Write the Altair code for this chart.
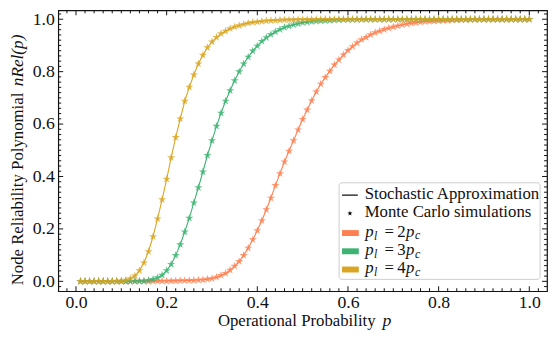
import altair as alt
import pandas as pd

# ---------------- data ----------------
P = [0.01, 0.02, 0.03, 0.04, 0.05, 0.06, 0.07, 0.08, 0.09, 0.10,
     0.11, 0.12, 0.13, 0.14, 0.15, 0.16, 0.17, 0.18, 0.19, 0.20,
     0.21, 0.22, 0.23, 0.24, 0.25, 0.26, 0.27, 0.28, 0.29, 0.30,
     0.31, 0.32, 0.33, 0.34, 0.35, 0.36, 0.37, 0.38, 0.39, 0.40,
     0.41, 0.42, 0.43, 0.44, 0.45, 0.46, 0.47, 0.48, 0.49, 0.50,
     0.51, 0.52, 0.53, 0.54, 0.55, 0.56, 0.57, 0.58, 0.59, 0.60,
     0.61, 0.62, 0.63, 0.64, 0.65, 0.66, 0.67, 0.68, 0.69, 0.70,
     0.71, 0.72, 0.73, 0.74, 0.75, 0.76, 0.77, 0.78, 0.79, 0.80,
     0.81, 0.82, 0.83, 0.84, 0.85, 0.86, 0.87, 0.88, 0.89, 0.90,
     0.91, 0.92, 0.93, 0.94, 0.95, 0.96, 0.97, 0.98, 0.99, 1.00]

REL_2PC = [0.0, 0.0, 0.0, 0.0, 0.0, 0.0, 0.0, 0.0, 0.0, 0.0,
           0.0, 0.0, 0.0, 0.0, 0.0, 0.0003, 0.0005, 0.0007, 0.001, 0.0013,
           0.0017, 0.002, 0.0025, 0.003, 0.0035, 0.004, 0.005, 0.006, 0.0085, 0.011,
           0.016, 0.0226, 0.031, 0.043, 0.058, 0.076, 0.099, 0.127, 0.159, 0.194,
           0.232, 0.274, 0.318, 0.366, 0.411, 0.456, 0.497, 0.537, 0.578, 0.618,
           0.654, 0.690, 0.723, 0.753, 0.778, 0.802, 0.826, 0.845, 0.864, 0.881,
           0.896, 0.910, 0.922, 0.931, 0.941, 0.949, 0.955, 0.961, 0.966, 0.971,
           0.975, 0.979, 0.982, 0.985, 0.987, 0.989, 0.991, 0.992, 0.993, 0.994,
           0.995, 0.996, 0.997, 0.9975, 0.998, 0.9985, 0.9988, 0.999, 0.9992, 0.9994,
           0.9995, 0.9996, 0.9997, 0.9998, 0.9998, 0.9999, 0.9999, 1.0, 1.0, 1.0]

REL_3PC = [0.0, 0.0, 0.0, 0.0, 0.0, 0.0, 0.0, 0.0, 0.0, 0.0,
           0.0003, 0.0005, 0.001, 0.0015, 0.002, 0.004, 0.0075, 0.014, 0.024, 0.041,
           0.065, 0.099, 0.140, 0.189, 0.241, 0.300, 0.358, 0.418, 0.481, 0.537,
           0.592, 0.642, 0.688, 0.728, 0.766, 0.800, 0.830, 0.856, 0.879, 0.898,
           0.916, 0.930, 0.942, 0.952, 0.961, 0.969, 0.974, 0.979, 0.983, 0.987,
           0.989, 0.991, 0.993, 0.994, 0.995, 0.996, 0.997, 0.9975, 0.998, 0.9985,
           0.9988, 0.999, 0.9992, 0.9994, 0.9995, 0.9996, 0.9997, 0.9998, 0.9998, 0.9999,
           1.0, 1.0, 1.0, 1.0, 1.0, 1.0, 1.0, 1.0, 1.0, 1.0,
           1.0, 1.0, 1.0, 1.0, 1.0, 1.0, 1.0, 1.0, 1.0, 1.0,
           1.0, 1.0, 1.0, 1.0, 1.0, 1.0, 1.0, 1.0, 1.0, 1.0]

REL_4PC = [0.0, 0.0, 0.0, 0.0, 0.0, 0.0, 0.0, 0.0005, 0.001, 0.002,
           0.005, 0.011, 0.021, 0.041, 0.071, 0.114, 0.171, 0.239, 0.312, 0.390,
           0.472, 0.549, 0.620, 0.688, 0.741, 0.788, 0.830, 0.863, 0.892, 0.914,
           0.931, 0.945, 0.955, 0.964, 0.971, 0.976, 0.981, 0.985, 0.988, 0.990,
           0.992, 0.994, 0.995, 0.996, 0.997, 0.9975, 0.998, 0.9985, 0.999, 0.999,
           0.9993, 0.9995, 0.9996, 0.9997, 0.9998, 0.9999, 0.9999, 1.0, 1.0, 1.0,
           1.0, 1.0, 1.0, 1.0, 1.0, 1.0, 1.0, 1.0, 1.0, 1.0,
           1.0, 1.0, 1.0, 1.0, 1.0, 1.0, 1.0, 1.0, 1.0, 1.0,
           1.0, 1.0, 1.0, 1.0, 1.0, 1.0, 1.0, 1.0, 1.0, 1.0,
           1.0, 1.0, 1.0, 1.0, 1.0, 1.0, 1.0, 1.0, 1.0, 1.0]

SERIES = ["2pc", "3pc", "4pc"]
COLORS = ["#FF7F50", "#3CB371", "#DAA520"]
DIGITS = ["2", "3", "4"]

X_MAJOR = [0.0, 0.2, 0.4, 0.6, 0.8, 1.0]
Y_MAJOR = [0.0, 0.2, 0.4, 0.6, 0.8, 1.0]
MINOR = [-0.02, 0.02, 0.04, 0.06, 0.08, 0.10, 0.12, 0.14, 0.16, 0.18,
         0.22, 0.24, 0.26, 0.28, 0.30, 0.32, 0.34, 0.36, 0.38,
         0.42, 0.44, 0.46, 0.48, 0.50, 0.52, 0.54, 0.56, 0.58,
         0.62, 0.64, 0.66, 0.68, 0.70, 0.72, 0.74, 0.76, 0.78,
         0.82, 0.84, 0.86, 0.88, 0.90, 0.92, 0.94, 0.96, 0.98, 1.02]

rows = []
for name, vals in zip(SERIES, [REL_2PC, REL_3PC, REL_4PC]):
    for p, v in zip(P, vals):
        rows.append({"p": p, "v": v, "series": name})
df = pd.DataFrame(rows)

# ---------------- layout ----------------
W, H = 496, 285          # plot area
L, T = 59, 8             # page position of plot area's top-left
SERIF = "Liberation Serif"

def px(x):
    return x - L

def py(y):
    return y - T

xs = alt.Scale(domain=[-0.0391, 1.0391], nice=False, zero=False)
ys = alt.Scale(domain=[-0.0376, 1.0338], nice=False, zero=False)
cs = alt.Scale(domain=SERIES, range=COLORS)

STAR = ("M0,-1L0.2245,-0.309L0.951,-0.309L0.363,0.118L0.588,0.809L0,0.382"
        "L-0.588,0.809L-0.363,0.118L-0.951,-0.309L-0.2245,-0.309Z")

one = pd.DataFrame({"k": [0]})

x_axis = alt.Axis(values=X_MAJOR, format=".1f", ticks=False, tickSize=0, domain=False,
                  grid=False, labelFont=SERIF, labelFontSize=18,
                  labelPadding=3, labelColor="#111111", title=None)
y_axis = alt.Axis(values=Y_MAJOR, format=".1f", ticks=False, tickSize=0, domain=False,
                  grid=False, labelFont=SERIF, labelFontSize=18,
                  labelPadding=4, labelColor="#111111", title=None)

def X(field):
    return alt.X(field, scale=xs, axis=x_axis)

def Y(field):
    return alt.Y(field, scale=ys, axis=y_axis)

lines = alt.Chart(df).mark_line(strokeWidth=1.1).encode(
    x=X("p:Q"), y=Y("v:Q"),
    color=alt.Color("series:N", scale=cs, legend=None),
)

points = alt.Chart(df).mark_point(shape=STAR, filled=True, size=75, opacity=0.8,
                                  strokeWidth=0.6).encode(
    x=X("p:Q"), y=Y("v:Q"),
    color=alt.Color("series:N", scale=cs, legend=None),
)

def xticks(vals, ln):
    d = pd.DataFrame({"t": vals})
    bot = alt.Chart(d).mark_rule(color="#111111", strokeWidth=1).encode(
        x=X("t:Q"), y=alt.value(H), y2=alt.value(H - ln))
    top = alt.Chart(d).mark_rule(color="#111111", strokeWidth=1).encode(
        x=X("t:Q"), y=alt.value(0), y2=alt.value(ln))
    return [bot, top]

def yticks(vals, ln):
    d = pd.DataFrame({"t": vals})
    left = alt.Chart(d).mark_rule(color="#111111", strokeWidth=1).encode(
        y=Y("t:Q"), x=alt.value(0), x2=alt.value(ln))
    right = alt.Chart(d).mark_rule(color="#111111", strokeWidth=1).encode(
        y=Y("t:Q"), x=alt.value(W), x2=alt.value(W - ln))
    return [left, right]

def txt(s, x, y, size=17, style="normal", angle=0):
    return alt.Chart(one).mark_text(
        text=s, font=SERIF, fontSize=size, fontStyle=style, angle=angle,
        align="left", baseline="alphabetic", color="#111111",
    ).encode(x=alt.value(px(x)), y=alt.value(py(y)))

layers = [lines, points]
layers += xticks(MINOR, 3) + xticks(X_MAJOR, 5)
layers += yticks(MINOR, 3) + yticks(Y_MAJOR, 5)

# legend box
layers.append(alt.Chart(one).mark_rect(fill="white", stroke="#cccccc", strokeWidth=1,
                                       cornerRadius=3).encode(
    x=alt.value(px(344)), x2=alt.value(px(548)), y=alt.value(py(183)), y2=alt.value(py(281))))
layers.append(alt.Chart(one).mark_rule(color="black", strokeWidth=1.2).encode(
    x=alt.value(px(347)), x2=alt.value(px(363)), y=alt.value(py(195.5))))
layers.append(alt.Chart(one).mark_point(shape=STAR, filled=True, size=30, color="black",
                                        opacity=1).encode(
    x=alt.value(px(355)), y=alt.value(py(214))))
layers.append(txt("Stochastic Approximation", 370, 199))
layers.append(txt("Monte Carlo simulations", 370, 217.7))

centers = [234, 252.5, 271]
for c, col, dg in zip(centers, COLORS, DIGITS):
    base = c + 4
    layers.append(alt.Chart(one).mark_rect(color=col).encode(
        x=alt.value(px(347)), x2=alt.value(px(364)), y=alt.value(py(c - 3)), y2=alt.value(py(c + 3))))
    layers.append(txt("p", 370.5, base, size=17, style="italic"))
    layers.append(txt("l", 379.5, base + 3, size=12, style="italic"))
    layers.append(txt("=", 390, base, size=17))
    layers.append(txt(dg, 403, base, size=17))
    layers.append(txt("p", 412, base, size=17, style="italic"))
    layers.append(txt("c", 421, base + 2.5, size=12, style="italic"))

# axis titles
layers.append(txt("Operational Probability", 221, 328.5, size=17))
layers.append(txt("p", 388, 328.5, size=18, style="italic"))
layers.append(txt("Node Reliability Polynomial", 23.5, 287, size=17, angle=270))
layers.append(txt("nRel(p)", 23.5, 85, size=17.5, style="italic", angle=270))

chart = alt.layer(*layers).properties(
    width=W, height=H,
    autosize=alt.AutoSizeParams(type="none"),
    padding={"left": 51, "top": 0, "right": 1, "bottom": 38},
).configure_view(
    stroke="#111111", strokeWidth=1.2
).configure_axis(
    labelFont=SERIF, labelFontSize=18
)

chart.save("out.html", embed_options={"renderer": "svg", "actions": False})
